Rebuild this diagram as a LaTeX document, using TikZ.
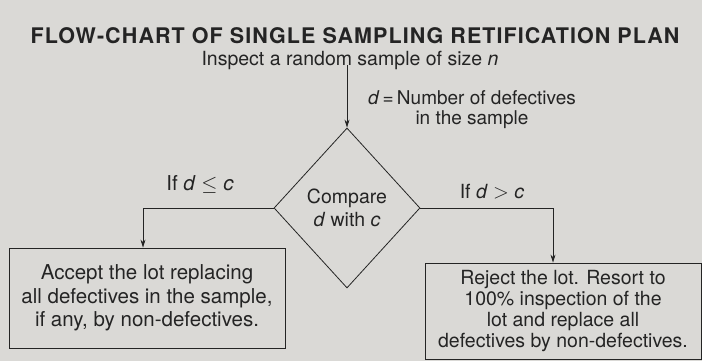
\documentclass[tikz,border=0pt]{standalone}
\usepackage{fontspec}
\setmainfont{TeX Gyre Heros}
\usepackage{tikz}
\usetikzlibrary{arrows.meta,shapes.geometric}
\definecolor{paper}{HTML}{DAD9D6}
\definecolor{ink}{HTML}{242424}
\tikzset{
  >={Stealth[length=8pt,width=5pt]},
  every node/.style={text=ink,font=\fontsize{19.5}{23}\selectfont},
  heading/.style={inner sep=0pt,font=\fontsize{21.5}{23}\selectfont\bfseries\addfontfeature{LetterSpace=5}},
  outcome/.style={draw=ink,thick,align=center,inner sep=0pt},
  decide/.style={diamond,draw=ink,thick,minimum width=146pt,minimum height=160pt,inner sep=0pt,align=center},
  flow/.style={->,thick,draw=ink},
  cond/.style={inner sep=1pt}
}

\begin{document}
\begin{tikzpicture}[x=1pt,y=-1pt]
  \fill[paper] (0,0) rectangle (702,361);
  \useasboundingbox (0,0) rectangle (702,361);

  \node[heading] (title) at (355,36) {FLOW-CHART OF SINGLE SAMPLING RETIFICATION PLAN};
  \node[inner sep=0pt] (insp) at (350,60) {Inspect a random sample of size \textit{n}};
  \node[align=center,font=\fontsize{19}{20}\selectfont] (defs) at (472,110) {\textit{d}\,=\,Number of defectives\\in the sample};

  \node[decide] (dec) at (347,208) {Compare\\\textit{d} with \textit{c}};

  \node[outcome,minimum width=276pt,minimum height=100pt,font=\fontsize{20.5}{23.5}\selectfont] (acc) at (147,298)
    {Accept the lot replacing\\all defectives in the sample,\\if any, by non-defectives.};
  \node[outcome,minimum width=276pt,minimum height=96pt,font=\fontsize{19.5}{21}\selectfont] (rej) at (563,311)
    {Reject the lot. Resort to\\100\% inspection of the\\lot and replace all\\defectives by non-defectives.};

  \draw[flow] ([yshift=4pt]insp.south -| dec.north) -- (dec.north);
  \draw[flow] (dec.west) -| ([xshift=-4pt]acc.north);
  \draw[flow] (dec.east) -| ([xshift=-10pt]rej.north);

  \node[cond,font=\fontsize{20.5}{23}\selectfont] (le) at (200,184) {If \textit{d} $\leq$ \textit{c}};
  \node[cond] (gt) at (492,192) {If \textit{d} $>$ \textit{c}};
\end{tikzpicture}
\end{document}
